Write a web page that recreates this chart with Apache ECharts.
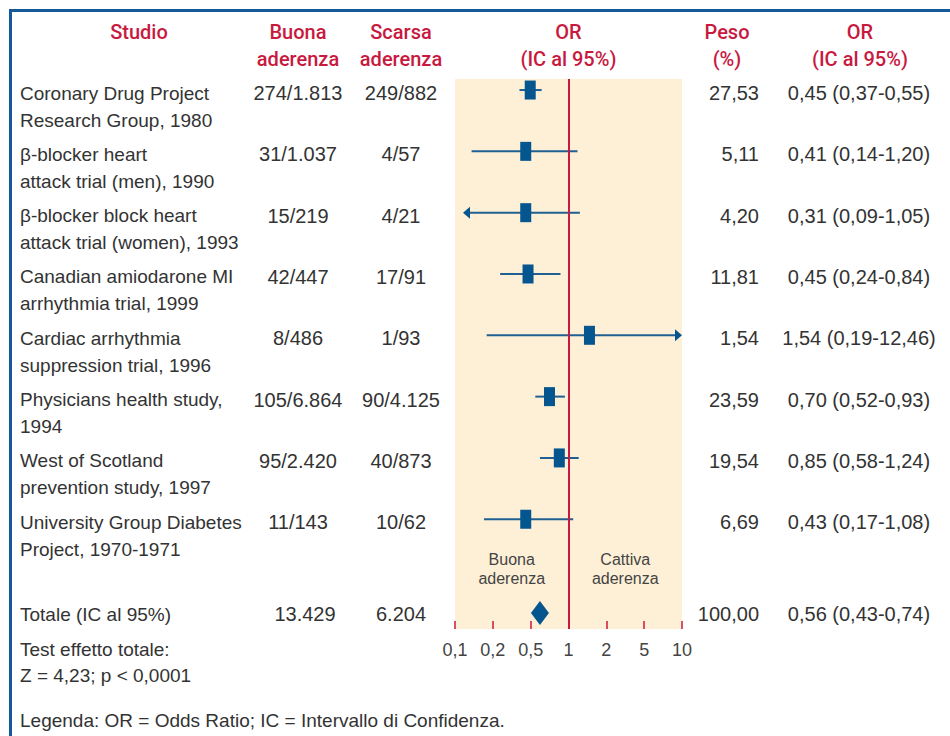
<!DOCTYPE html>
<html><head><meta charset="utf-8">
<script src="https://cdn.jsdelivr.net/npm/echarts@6/dist/echarts.min.js"></script>
<style>html,body{margin:0;padding:0;background:#fff}#c{width:950px;height:736px}</style>
</head><body><div id="c"></div>
<script>
// ---- data ----
const studyLine1 = ["Coronary Drug Project","β-blocker heart","β-blocker block heart","Canadian amiodarone MI","Cardiac arrhythmia","Physicians health study,","West of Scotland","University Group Diabetes"];
const studyLine2 = ["Research Group, 1980","attack trial (men), 1990","attack trial (women), 1993","arrhythmia trial, 1999","suppression trial, 1996","1994","prevention study, 1997","Project, 1970-1971"];
const buona = ["274/1.813","31/1.037","15/219","42/447","8/486","105/6.864","95/2.420","11/143"];
const scarsa = ["249/882","4/57","4/21","17/91","1/93","90/4.125","40/873","10/62"];
const peso = ["27,53","5,11","4,20","11,81","1,54","23,59","19,54","6,69"];
const orText = ["0,45 (0,37-0,55)","0,41 (0,14-1,20)","0,31 (0,09-1,05)","0,45 (0,24-0,84)","1,54 (0,19-12,46)","0,70 (0,52-0,93)","0,85 (0,58-1,24)","0,43 (0,17-1,08)"];
const orPlot = [0.46,0.42,0.42,0.44,1.53,0.68,0.83,0.42];
const ciLow  = [0.37,0.14,0.09,0.25,0.19,0.51,0.56,0.18];
const ciHigh = [0.58,1.20,1.26,0.85,12.46,0.93,1.23,1.10];
const totalLabel = "Totale (IC al 95%)";
const totalBuona = "13.429";
const totalScarsa = "6.204";
const totalPeso = "100,00";
const totalOrText = "0,56 (0,43-0,74)";
const totalOR = 0.56;
const tickLabels = ["0,1","0,2","0,5","1","2","5","10"];
const headers = [["Studio"],["Buona","aderenza"],["Scarsa","aderenza"],["OR","(IC al 95%)"],["Peso","(%)"],["OR","(IC al 95%)"]];
const footer1 = "Test effetto totale:";
const footer2 = "Z = 4,23; p < 0,0001";
const legendText = "Legenda: OR = Odds Ratio; IC = Intervallo di Confidenza.";
const zoneLeft = ["Buona","aderenza"];
const zoneRight = ["Cattiva","aderenza"];
const totalRow = 8.53;

// ---- styles ----
const RED = '#c8193f', BLUE = '#05558f', WHISK = '#1f5f92', TXT = '#333333';
const FONT = '"Liberation Sans", Arial, sans-serif';
const HFONT = 'Roboto, "Liberation Sans", sans-serif';
const toAxis = v => 3 * Math.log10(v);

const chart = echarts.init(document.getElementById('c'), null, {renderer: 'svg'});

const boxData = orPlot.map((v, i) => [toAxis(v), i]);
const whiskData = orPlot.map((v, i) => [i, toAxis(ciLow[i]), toAxis(ciHigh[i])]);

chart.setOption({
  animation: false,
  backgroundColor: '#ffffff',
  grid: {left: 455, right: 268, top: 79, bottom: 107, show: true, backgroundColor: '#fdf0d6', borderWidth: 0},
  xAxis: {
    type: 'value', min: -3, max: 3, interval: 1, position: 'bottom',
    axisLine: {show: false, onZero: false},
    axisTick: {show: true, inside: true, length: 8, lineStyle: {color: RED, width: 1.5}},
    splitLine: {show: false},
    axisLabel: {margin: 12, fontSize: 18, color: '#444', fontFamily: FONT,
      formatter: v => tickLabels[Math.round(v) + 3]}
  },
  yAxis: {type: 'value', inverse: true, min: -0.18, max: 8.79, show: false},
  series: [
    {type: 'line', data: [], z: 1,
      markLine: {silent: true, symbol: 'none', label: {show: false},
        lineStyle: {color: RED, width: 2, type: 'solid'}, data: [{xAxis: 0}]}},
    {type: 'custom', z: 3, clip: false, data: whiskData, encode: {x: [1, 2], y: 0},
      renderItem(params, api) {
        const row = api.value(0), lo = api.value(1), hi = api.value(2);
        const y = api.coord([0, row])[1];
        const xmin = api.coord([-3, row])[0], xmax = api.coord([3, row])[0];
        const la = lo < -3, ra = hi > 3;
        let x1 = la ? xmin + 8 : api.coord([lo, row])[0];
        let x2 = ra ? xmax : api.coord([hi, row])[0];
        const ch = [{type: 'line', shape: {x1: la ? x1 + 5 : x1, y1: y, x2: ra ? x2 - 5 : x2, y2: y},
          style: {stroke: WHISK, lineWidth: 2}}];
        if (la) ch.push({type: 'polygon', shape: {points: [[x1, y], [x1 + 7, y - 6], [x1 + 7, y + 6]]}, style: {fill: BLUE}});
        if (ra) ch.push({type: 'polygon', shape: {points: [[x2, y], [x2 - 7, y - 6], [x2 - 7, y + 6]]}, style: {fill: BLUE}});
        return {type: 'group', children: ch};
      }},
    {type: 'scatter', z: 4, symbol: 'rect', symbolSize: [11, 19], itemStyle: {color: BLUE, opacity: 1}, data: boxData},
    {type: 'scatter', z: 4, symbol: 'diamond', symbolSize: [18, 24], itemStyle: {color: BLUE, opacity: 1}, data: [[toAxis(totalOR), totalRow]]}
  ]
});

// ---- table text, positioned from the y scale ----
const rowY = r => chart.convertToPixel({gridIndex: 0}, [0, r])[1];
const colX = v => chart.convertToPixel({gridIndex: 0}, [v, 0])[0];
const g = [];
function txt(text, x, y, opt) {
  opt = opt || {};
  g.push({type: 'text', silent: true, z: 10, style: {
    text: text, x: x, y: y, fill: opt.fill || TXT,
    font: (opt.weight || 'normal') + ' ' + (opt.size || 20) + 'px ' + (opt.family || FONT),
    textAlign: opt.align || 'left', textVerticalAlign: 'middle'}});
}
g.push({type: 'rect', silent: true, z: 0, shape: {x: 10.5, y: 10.5, width: 2000, height: 2000},
  style: {fill: 'none', stroke: '#16599b', lineWidth: 3}});

const hdrX = [139, 298, 401, colX(0), 727, 860];
headers.forEach((h, i) => h.forEach((s, j) => txt(s, hdrX[i], 32 + j * 27, {fill: RED, weight: 500, size: 20, align: 'center', family: HFONT})));

for (let i = 0; i < studyLine1.length; i++) {
  const y = rowY(i) + 3;
  txt(studyLine1[i], 20, y, {size: 19});
  txt(studyLine2[i], 20, y + 27, {size: 19});
  txt(buona[i], 298, y, {align: 'center'});
  txt(scarsa[i], 401, y, {align: 'center'});
  txt(peso[i], 759, y, {align: 'right'});
  txt(orText[i], 859, y, {align: 'center'});
}
const ty = rowY(totalRow) + 1;
txt(totalLabel, 20, ty, {size: 19});
txt(totalBuona, 305, ty, {align: 'center'});
txt(totalScarsa, 401, ty, {align: 'center'});
txt(totalPeso, 759, ty, {align: 'right'});
txt(totalOrText, 859, ty, {align: 'center'});
txt(footer1, 20, 649, {size: 19});
txt(footer2, 20, 675, {size: 19});
txt(legendText, 20, 720, {size: 19});

const zy = rowY(7) + 40;
zoneLeft.forEach((s, j) => txt(s, colX(-1.5), zy + j * 19, {size: 16, align: 'center', fill: '#444'}));
zoneRight.forEach((s, j) => txt(s, colX(1.5), zy + j * 19, {size: 16, align: 'center', fill: '#444'}));

chart.setOption({graphic: g});
</script></body></html>
